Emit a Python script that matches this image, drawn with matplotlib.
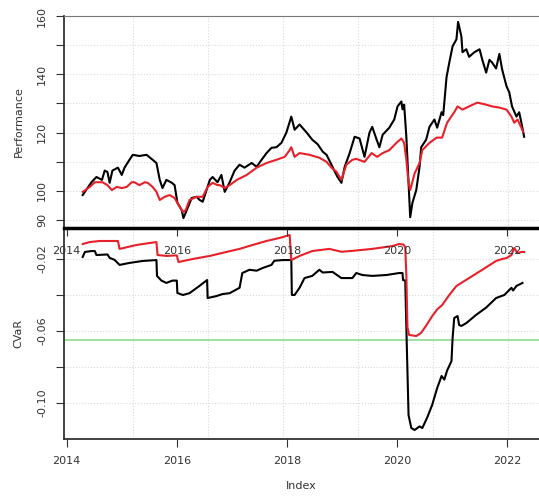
import numpy as np
import matplotlib
matplotlib.use("Agg")
import matplotlib.pyplot as plt

# performance, black series (decimal year, value)
perf_blk_t = [2014.29, 2014.45, 2014.54, 2014.64, 2014.69, 2014.74, 2014.78, 2014.83, 2014.93, 2015.00,
              2015.05, 2015.14, 2015.20, 2015.32, 2015.45, 2015.56, 2015.63, 2015.69, 2015.74, 2015.81,
              2015.91, 2015.96, 2016.01, 2016.09, 2016.12, 2016.18, 2016.27, 2016.36, 2016.41, 2016.47,
              2016.54, 2016.60, 2016.65, 2016.74, 2016.81, 2016.87, 2016.96, 2017.05, 2017.14, 2017.23,
              2017.36, 2017.45, 2017.54, 2017.63, 2017.72, 2017.81, 2017.90, 2017.99, 2018.08, 2018.14,
              2018.23, 2018.36, 2018.46, 2018.56, 2018.65, 2018.72, 2018.81, 2018.86, 2018.92, 2018.99,
              2019.05, 2019.14, 2019.23, 2019.32, 2019.41, 2019.50, 2019.55, 2019.63, 2019.68, 2019.74,
              2019.86, 2019.95, 2020.01, 2020.08, 2020.10, 2020.13, 2020.17, 2020.21, 2020.24, 2020.28,
              2020.35, 2020.41, 2020.44, 2020.53, 2020.59, 2020.68, 2020.73, 2020.81, 2020.84, 2020.90,
              2020.95, 2021.01, 2021.08, 2021.11, 2021.17, 2021.19, 2021.26, 2021.31, 2021.40, 2021.50,
              2021.55, 2021.62, 2021.68, 2021.73, 2021.80, 2021.86, 2021.91, 2021.99, 2022.04, 2022.09,
              2022.17, 2022.22, 2022.26, 2022.31]
perf_blk = [98.6, 103.0, 104.8, 103.8, 107.0, 106.5, 102.8, 107.0, 108.0, 105.5,
            108.0, 110.7, 112.4, 112.0, 112.4, 110.7, 109.6, 103.8, 101.0, 103.8,
            102.8, 102.0, 96.0, 93.4, 90.7, 93.4, 97.6, 98.0, 97.0, 96.3,
            100.3, 103.8, 104.8, 103.0, 105.5, 99.7, 103.0, 107.0, 109.0, 108.0,
            109.6, 108.3, 110.7, 113.0, 114.8, 115.0, 116.5, 120.0, 125.5, 121.0,
            122.8, 120.0, 117.6, 116.0, 113.5, 112.4, 109.0, 107.0, 104.8, 102.8,
            108.3, 113.0, 118.6, 118.0, 111.7, 120.0, 122.0, 117.6, 115.0, 119.3,
            121.7, 124.5, 129.0, 130.7, 128.0, 129.6, 118.6, 102.8, 91.0, 95.9,
            100.3, 108.3, 115.0, 117.6, 122.0, 124.5, 121.7, 127.0, 126.0, 139.0,
            144.0, 149.6, 152.0, 158.0, 153.0, 147.6, 148.6, 146.0, 147.5, 148.6,
            145.0, 140.6, 145.0, 144.0, 142.0, 147.0, 141.7, 135.9, 133.8, 129.0,
            125.5, 127.0, 123.4, 118.6]

# performance, red series
perf_red_t = [2014.29, 2014.42, 2014.51, 2014.60, 2014.65, 2014.74, 2014.82, 2014.91, 2015.00, 2015.09,
              2015.18, 2015.23, 2015.32, 2015.42, 2015.47, 2015.56, 2015.63, 2015.69, 2015.78, 2015.87,
              2015.96, 2016.01, 2016.11, 2016.16, 2016.23, 2016.36, 2016.47, 2016.56, 2016.65, 2016.74,
              2016.78, 2016.87, 2016.96, 2017.09, 2017.27, 2017.45, 2017.63, 2017.81, 2017.96, 2018.05,
              2018.08, 2018.14, 2018.23, 2018.41, 2018.59, 2018.72, 2018.81, 2018.90, 2018.99, 2019.08,
              2019.19, 2019.26, 2019.41, 2019.54, 2019.64, 2019.74, 2019.86, 2019.99, 2020.08, 2020.13,
              2020.17, 2020.21, 2020.24, 2020.32, 2020.41, 2020.46, 2020.59, 2020.72, 2020.82, 2020.91,
              2021.04, 2021.10, 2021.19, 2021.31, 2021.46, 2021.62, 2021.73, 2021.86, 2021.99, 2022.08,
              2022.13, 2022.19, 2022.26, 2022.29]
perf_red = [99.7, 101.4, 103.0, 103.0, 103.0, 102.0, 100.3, 101.4, 101.0, 101.4,
            103.0, 103.0, 102.0, 103.0, 102.8, 101.4, 99.7, 96.9, 98.0, 98.6,
            97.6, 95.9, 92.8, 93.4, 96.9, 98.0, 98.0, 101.4, 102.8, 102.0,
            102.0, 101.0, 102.0, 103.8, 105.5, 108.0, 109.6, 110.7, 111.7, 114.0,
            115.0, 111.7, 113.0, 112.4, 111.4, 110.0, 108.0, 106.6, 103.8, 109.0,
            110.7, 111.0, 110.0, 113.0, 111.7, 113.0, 114.0, 116.5, 118.0, 116.5,
            110.7, 102.8, 100.3, 106.0, 109.6, 114.0, 116.5, 118.3, 118.3, 123.4,
            127.0, 129.0, 127.9, 129.0, 130.3, 129.6, 129.0, 128.6, 127.9, 125.5,
            123.4, 124.5, 121.7, 120.3]

# CVaR, black series
cvar_blk_t = [2014.29, 2014.33, 2014.45, 2014.51, 2014.54, 2014.74, 2014.78, 2014.87, 2014.96, 2015.14,
              2015.38, 2015.63, 2015.64, 2015.72, 2015.81, 2015.92, 2016.00, 2016.01, 2016.11, 2016.23,
              2016.41, 2016.55, 2016.56, 2016.72, 2016.83, 2016.96, 2017.14, 2017.19, 2017.32, 2017.45,
              2017.56, 2017.72, 2017.77, 2017.92, 2018.08, 2018.09, 2018.14, 2018.23, 2018.32, 2018.46,
              2018.59, 2018.65, 2018.83, 2018.99, 2019.19, 2019.26, 2019.37, 2019.55, 2019.81, 2020.04,
              2020.10, 2020.11, 2020.15, 2020.17, 2020.21, 2020.26, 2020.32, 2020.41, 2020.46, 2020.55,
              2020.64, 2020.73, 2020.81, 2020.86, 2020.91, 2020.99, 2021.01, 2021.04, 2021.10, 2021.13,
              2021.17, 2021.26, 2021.44, 2021.62, 2021.80, 2021.95, 2022.08, 2022.11, 2022.17, 2022.28]
cvar_blk = [-0.0189, -0.0161, -0.0156, -0.0156, -0.0178, -0.0175, -0.0194, -0.0205, -0.0233, -0.0222,
            -0.0211, -0.0206, -0.0294, -0.0320, -0.0333, -0.0320, -0.0320, -0.0389, -0.0400, -0.0390,
            -0.0350, -0.0317, -0.0417, -0.0406, -0.0395, -0.0390, -0.0360, -0.0278, -0.0260, -0.0265,
            -0.0250, -0.0233, -0.0210, -0.0206, -0.0206, -0.0400, -0.0400, -0.0360, -0.0306, -0.0294,
            -0.0260, -0.0275, -0.0272, -0.0306, -0.0306, -0.0278, -0.0289, -0.0294, -0.0289, -0.0278,
            -0.0278, -0.0317, -0.0320, -0.0580, -0.1067, -0.1139, -0.1150, -0.1130, -0.1139, -0.1080,
            -0.1010, -0.0917, -0.0850, -0.0870, -0.0820, -0.0767, -0.0640, -0.0528, -0.0517, -0.0567,
            -0.0572, -0.0556, -0.0510, -0.0470, -0.0417, -0.0400, -0.0360, -0.0375, -0.0350, -0.0333]

# CVaR, red series
cvar_red_t = [2014.29, 2014.42, 2014.60, 2014.93, 2014.96, 2015.27, 2015.63, 2015.65, 2015.81, 2016.00,
              2016.03, 2016.29, 2016.60, 2016.90, 2017.14, 2017.38, 2017.63, 2017.87, 2018.05, 2018.08,
              2018.23, 2018.46, 2018.77, 2018.99, 2019.19, 2019.55, 2019.92, 2020.04, 2020.12, 2020.15,
              2020.17, 2020.19, 2020.22, 2020.35, 2020.44, 2020.53, 2020.64, 2020.73, 2020.82, 2020.95,
              2021.08, 2021.31, 2021.55, 2021.80, 2021.91, 2021.99, 2022.08, 2022.13, 2022.19, 2022.26,
              2022.31]
cvar_red = [-0.0117, -0.0106, -0.0100, -0.0100, -0.0144, -0.0122, -0.0106, -0.0178, -0.0183, -0.0180,
            -0.0217, -0.0200, -0.0183, -0.0161, -0.0144, -0.0122, -0.0100, -0.0083, -0.0067, -0.0206,
            -0.0183, -0.0156, -0.0144, -0.0160, -0.0155, -0.0144, -0.0128, -0.0117, -0.0120, -0.0135,
            -0.0289, -0.0580, -0.0622, -0.0628, -0.0610, -0.0570, -0.0517, -0.0480, -0.0456, -0.0400,
            -0.0350, -0.0306, -0.0260, -0.0211, -0.0200, -0.0195, -0.0178, -0.0139, -0.0167, -0.0161,
            -0.0161]

cvar_limit = -0.065
year_ticks = [2014, 2016, 2018, 2020, 2022]

txt = "#333333"
red = "#e8202a"
grid_kw = dict(color="#d9d9d9", linestyle=":", linewidth=0.8)

fig = plt.figure(figsize=(5.39, 4.96), dpi=100)
ax1 = fig.add_axes([0.1187, 0.5403, 0.8813, 0.4274])
ax2 = fig.add_axes([0.1187, 0.1149, 0.8813, 0.4254])

xlim = (2013.95, 2022.58)
vgrid = np.arange(2015.2, 2022.3, 1.365)

# top panel
for g in vgrid:
    ax1.axvline(g, zorder=0, **grid_kw)
for v in range(90, 161, 10):
    ax1.axhline(v, zorder=0, **grid_kw)
ax1.plot(perf_blk_t, perf_blk, color="black", lw=1.5)
ax1.plot(perf_red_t, perf_red, color=red, lw=1.5)
ax1.set_xlim(xlim)
ax1.set_ylim(87.3, 160)
ax1.set_yticks(range(90, 161, 10))
ax1.set_yticklabels(["90", "100", "", "120", "", "140", "", "160"])
ax1.set_xticks(year_ticks)
ax1.set_xticklabels([str(y) for y in year_ticks])
ax1.tick_params(axis="x", direction="out", length=6, pad=7, labelsize=8, colors=txt)
ax1.tick_params(axis="y", direction="out", length=6, pad=6, labelsize=8, colors=txt, labelrotation=90)
for lab in ax1.get_yticklabels():
    lab.set_va("center")
ax1.set_ylabel("Performance", fontsize=8, color=txt, labelpad=10)
ax1.spines["right"].set_visible(False)
ax1.spines["top"].set_linestyle((0, (1, 1)))
ax1.spines["top"].set_color("#777777")
ax1.spines["left"].set_color(txt)
ax1.spines["left"].set_linewidth(1.3)
ax1.spines["bottom"].set_color("black")
ax1.spines["bottom"].set_linewidth(2.5)

# bottom panel
for g in vgrid:
    ax2.axvline(g, zorder=0, **grid_kw)
for v in [-0.02, -0.04, -0.06, -0.08, -0.10]:
    ax2.axhline(v, zorder=0, **grid_kw)
ax2.axhline(cvar_limit, color="#8fd88f", lw=1.2, zorder=1)
ax2.plot(cvar_blk_t, cvar_blk, color="black", lw=1.5)
ax2.plot(cvar_red_t, cvar_red, color=red, lw=1.5)
ax2.set_xlim(xlim)
ax2.set_ylim(-0.12, -0.0028)
ax2.set_yticks([-0.02, -0.04, -0.06, -0.08, -0.10])
ax2.set_yticklabels(["-0.02", "", "-0.06", "", "-0.10"])
ax2.set_xticks(year_ticks)
ax2.set_xticklabels([str(y) for y in year_ticks])
ax2.tick_params(axis="x", direction="out", length=6, pad=6, labelsize=8, colors=txt)
ax2.tick_params(axis="y", direction="out", length=6, pad=6, labelsize=8, colors=txt, labelrotation=90)
for lab in ax2.get_yticklabels():
    lab.set_va("center")
ax2.set_ylabel("CVaR", fontsize=8, color=txt, labelpad=10)
ax2.set_xlabel("Index", fontsize=8, color=txt, labelpad=11)
ax2.spines["right"].set_visible(False)
ax2.spines["top"].set_visible(False)
ax2.spines["left"].set_color(txt)
ax2.spines["left"].set_linewidth(1.3)
ax2.spines["bottom"].set_color(txt)
ax2.spines["bottom"].set_linewidth(1.3)

# the year labels of the upper axis sit inside the lower panel
ax1.set_zorder(3)
ax1.patch.set_alpha(0)

fig.savefig("out.png", dpi=100)
